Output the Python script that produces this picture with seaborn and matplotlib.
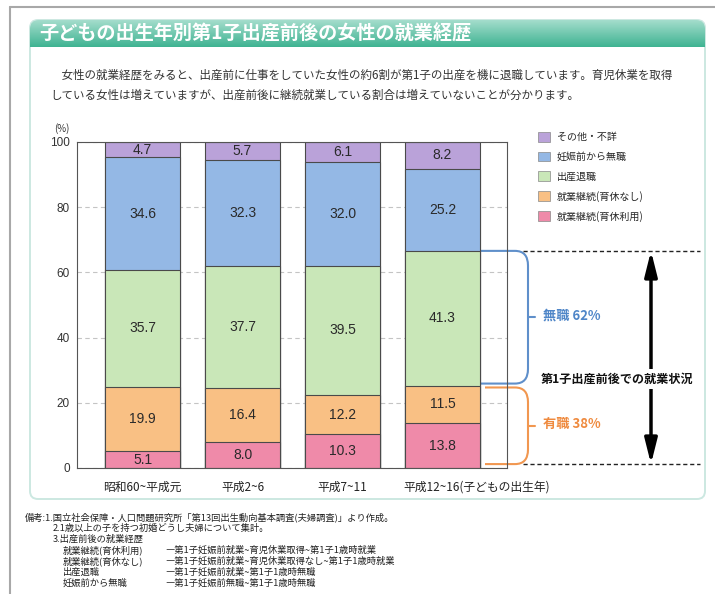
import numpy as np
import pandas as pd
import seaborn as sns
import matplotlib
matplotlib.use("Agg")
import matplotlib.pyplot as plt
import matplotlib.transforms as mtransforms
from matplotlib.patches import FancyBboxPatch, Patch, PathPatch
from matplotlib.path import Path

# ---------------- data ----------------
categories = ["昭和60~平成元", "平成2~6", "平成7~11", "平成12~16"]
category_suffix = "(子どもの出生年)"
series_names = ["就業継続(育休利用)", "就業継続(育休なし)", "出産退職", "妊娠前から無職", "その他・不詳"]
ikukyu_riyou = [5.1, 8.0, 10.3, 13.8]
ikukyu_nashi = [19.9, 16.4, 12.2, 11.5]
shussan_taishoku = [35.7, 37.7, 39.5, 41.3]
ninshin_mae_mushoku = [34.6, 32.3, 32.0, 25.2]
sonota_fusho = [4.7, 5.7, 6.1, 8.2]
yticks = [0, 20, 40, 60, 80, 100]
mushoku_label = "無職 62%"
yushoku_label = "有職 38%"
status_label = "第1子出産前後での就業状況"

title = "子どもの出生年別第1子出産前後の女性の就業経歴"
body_lines = [
    "\u3000女性の就業経歴をみると、出産前に仕事をしていた女性の約6割が第1子の出産を機に退職しています。育児休業を取得",
    "している女性は増えていますが、出産前後に継続就業している割合は増えていないことが分かります。",
]
notes_lines = [
    (25, "備考:1.国立社会保障・人口問題研究所「第13回出生動向基本調査(夫婦調査)」より作成。", None),
    (53, "2.1歳以上の子を持つ初婚どうし夫婦について集計。", None),
    (53, "3.出産前後の就業経歴", None),
    (63, "就業継続(育休利用)", "―第1子妊娠前就業~育児休業取得~第1子1歳時就業"),
    (63, "就業継続(育休なし)", "―第1子妊娠前就業~育児休業取得なし~第1子1歳時就業"),
    (63, "出産退職", "―第1子妊娠前就業~第1子1歳時無職"),
    (63, "妊娠前から無職", "―第1子妊娠前無職~第1子1歳時無職"),
]

colors = ["#ef8aa9", "#f9c084", "#c9e7b8", "#94b8e5", "#baa2d9"]

sns.set_theme(style="white")
plt.rcParams["font.family"] = ["Noto Sans CJK JP", "DejaVu Sans"]

fig = plt.figure(figsize=(7.15, 5.94), dpi=100)

# ---------------- background / frame (pixel coords) ----------------
bg = fig.add_axes([0, 0, 1, 1], zorder=0)
bg.axis("off")
bg.plot([10, 715], [7, 7], color="#a8a8a8", lw=1.5)
bg.plot([10, 10], [7, 594], color="#a8a8a8", lw=1.5)

box = FancyBboxPatch((30, 20), 675, 479, boxstyle="round,pad=0,rounding_size=8",
                     fc="white", ec="#cce8e1", lw=1.4)
bg.add_patch(box)
clip = FancyBboxPatch((30, 20), 675, 40, boxstyle="round,pad=0,rounding_size=9",
                      fc="none", ec="none")
bg.add_patch(clip)
top_c = np.array(matplotlib.colors.to_rgb("#a4ddcc"))
bot_c = np.array(matplotlib.colors.to_rgb("#3fb392"))
t = np.linspace(0, 1, 64)[:, None, None]
grad = top_c * (1 - t) + bot_c * t
im = bg.imshow(grad, extent=(30, 705, 47, 20), aspect="auto", origin="upper", zorder=1)
im.set_clip_path(clip)
bg.text(39, 34, title, color="white", fontsize=13.8, fontweight="bold", va="center", zorder=2)
for i, line in enumerate(body_lines):
    bg.text(50, 75 + 20 * i, line, fontsize=8.3, color="#333333", va="center")

for i, (x0, a, b) in enumerate(notes_lines):
    y = 517 + 11.1 * i
    bg.text(x0, y, a, fontsize=6.7, color="#222222", va="center")
    if b is not None:
        bg.text(165, y, b, fontsize=6.7, color="#222222", va="center")

bg.set_xlim(0, 715)
bg.set_ylim(594, 0)

# ---------------- main chart ----------------
ax = fig.add_axes([77 / 715, (594 - 468) / 594, 430 / 715, 326 / 594], zorder=2)
stack = np.array([ikukyu_riyou, ikukyu_nashi, shussan_taishoku, ninshin_mae_mushoku, sonota_fusho])
cum = np.cumsum(stack, axis=0)

for i in reversed(range(len(series_names))):
    df = pd.DataFrame({"cat": categories, "val": cum[i]})
    sns.barplot(data=df, x="cat", y="val", color=colors[i], width=0.75, saturation=1,
                edgecolor="#4a4a4a", linewidth=0.8, ax=ax, zorder=2)

for i in range(len(series_names)):
    for j in range(len(categories)):
        ax.text(j, cum[i][j] - stack[i][j] / 2, f"{stack[i][j]:.1f}", ha="center", va="center",
                fontsize=10, color="#2a2a2a", zorder=5, family=["Liberation Sans", "DejaVu Sans"])

ax.set_xlim(-0.655, 3.645)
ax.set_ylim(0, 100)
ax.set_yticks(yticks)
ax.set_yticklabels([str(v) for v in yticks])
ax.set_xticks(range(len(categories)))
ax.set_xticklabels(categories[:-1] + [categories[-1] + category_suffix])
ax.set_xlabel("")
ax.set_ylabel("")
ax.tick_params(axis="y", length=0, pad=5, labelsize=8.5, labelcolor="#333333")
ax.tick_params(axis="x", length=0, pad=9, labelsize=8.5, labelcolor="#222222")
for lab in ax.get_yticklabels():
    lab.set_family(["Liberation Sans", "DejaVu Sans"])
last_lab = ax.xaxis.get_major_ticks()[-1].label1
last_lab.set_horizontalalignment("left")
last_lab.set_transform(last_lab.get_transform() +
                       mtransforms.ScaledTranslation(-39 / 100, 0, fig.dpi_scale_trans))

ax.yaxis.grid(True, color="#c4c4c4", linestyle=(0, (4, 3)), lw=0.8)
ax.xaxis.grid(False)
ax.set_axisbelow(True)
for s in ax.spines.values():
    s.set_visible(True)
    s.set_color("#555555")
    s.set_linewidth(0.8)

ax.text(-0.805, 104, "(%)", fontsize=7, color="#333333", ha="center", va="center")

# legend
handles = [Patch(facecolor=colors[i], edgecolor="#888888", lw=0.5, label=series_names[i])
           for i in reversed(range(len(series_names)))]
ax.legend(handles=handles, loc="upper left", bbox_to_anchor=(538 / 715, 1 - 132 / 594),
          bbox_transform=fig.transFigure, frameon=False, fontsize=7.2, handlelength=1.15,
          handleheight=1.15, handletextpad=0.7, labelspacing=0.92, borderaxespad=0, borderpad=0)

# ---------------- right side annotations ----------------
j = len(categories) - 1
top_b = cum[2][j]
mid_b = cum[1][j]
bot_b = 1.2
bar_edge = j + 0.375
xb = 3.855
rx, ry = 0.13, 4.5


def bracket(x0, y_top, y_bot, color):
    verts = [(x0, y_top), (xb - rx, y_top), (xb, y_top), (xb, y_top - ry),
             (xb, y_bot + ry), (xb, y_bot), (xb - rx, y_bot), (x0, y_bot)]
    codes = [Path.MOVETO, Path.LINETO, Path.CURVE3, Path.CURVE3,
             Path.LINETO, Path.CURVE3, Path.CURVE3, Path.LINETO]
    ax.add_patch(PathPatch(Path(verts, codes), fill=False, ec=color, lw=1.5,
                           clip_on=False, zorder=1.5))
    ym = (y_top + y_bot) / 2
    ax.plot([xb, xb + 0.07], [ym, ym], color=color, lw=1.5, clip_on=False, zorder=1.5)
    return ym


blue = "#5f8fca"
orange = "#f19750"
ym1 = bracket(bar_edge, top_b, mid_b + 0.6, blue)
ym2 = bracket(bar_edge + 0.05, mid_b - 0.6, bot_b, orange)
ax.text(xb + 0.15, ym1 + 0.5, mushoku_label, color="#4f86c8", fontsize=9.5, fontweight="bold",
        va="center", ha="left")
ax.text(xb + 0.15, ym2 + 0.5, yushoku_label, color="#ef8a3e", fontsize=9.5, fontweight="bold",
        va="center", ha="left")

for yy in (top_b, bot_b):
    ax.plot([3.8, 5.575], [yy, yy], color="#222222", ls=(0, (3, 2)), lw=1.0, clip_on=False)

ax.annotate("", xy=(5.085, top_b), xytext=(5.085, bot_b),
            arrowprops=dict(arrowstyle="<|-|>,head_length=1.0,head_width=0.25",
                            mutation_scale=15, color="black", lw=2.5,
                            shrinkA=0, shrinkB=0), annotation_clip=False)
ax.text(4.75, 27.3, status_label, fontsize=8.7, fontweight="bold", color="#111111",
        ha="center", va="center", zorder=6,
        bbox=dict(boxstyle="square,pad=0.25", fc="white", ec="none"))

fig.savefig("out.png", dpi=100)
